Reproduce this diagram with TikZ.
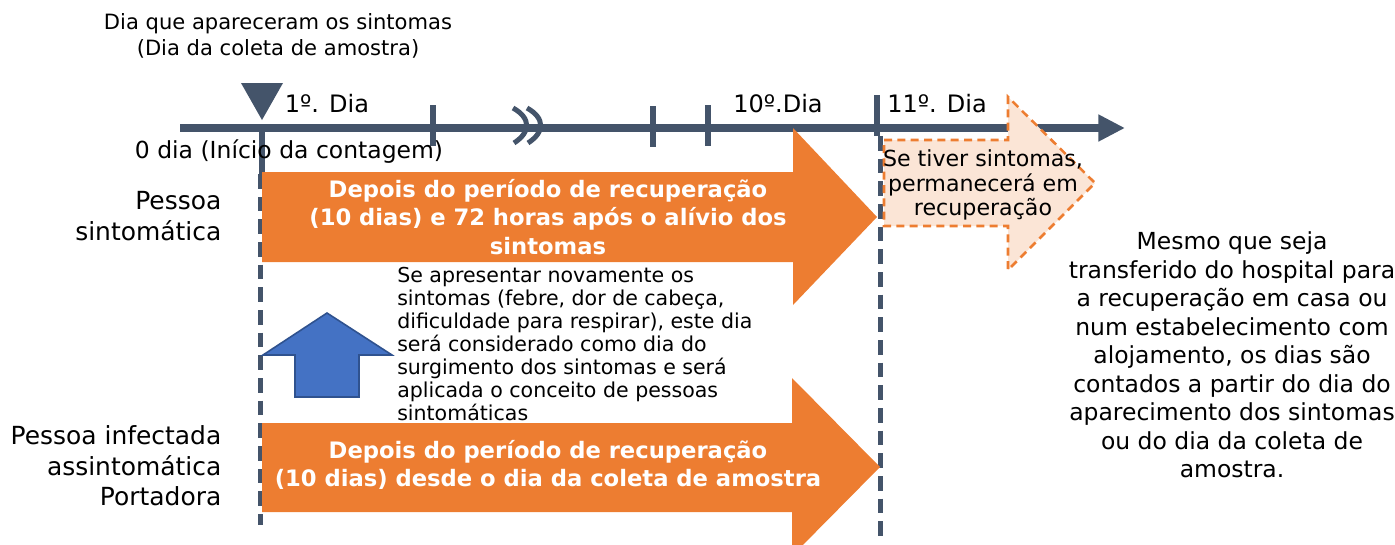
\documentclass[tikz,border=0pt]{standalone}
\usepackage{fontspec}
\setmainfont{DejaVu Sans}
\usepackage{xcolor}
\usepackage{tikz}
\usetikzlibrary{arrows.meta}

\definecolor{axisgray}{HTML}{44546A}
\definecolor{boxorange}{HTML}{ED7D31}
\definecolor{lightpeach}{HTML}{FBE5D6}
\definecolor{upblue}{HTML}{4472C4}
\definecolor{upblueline}{HTML}{2F528F}

\begin{document}
\begin{tikzpicture}[x=0.75pt, y=-0.75pt,
    daydash/.style={axisgray, line width=3.75pt, dash pattern=on 11pt off 6pt},
    tick/.style={axisgray, line width=4.5pt},
    whitebold/.style={white, font=\fontsize{17}{21.5}\selectfont\bfseries, align=center}]
    \useasboundingbox (0, 0) rectangle (1395, 544);

    \draw [line width=6pt, axisgray, -{Triangle[length=20pt, width=19pt]}] (180, 128) -- (1125, 128);
    \fill [axisgray] (241, 83) -- (283, 83) -- (262, 120) -- cycle;
    \draw [tick] (262, 128) -- (262, 174);
    \draw [tick] (433, 105) -- (433, 146);
    \draw [tick] (653, 106) -- (653, 147);
    \draw [tick] (708, 105) -- (708, 146);
    \draw [tick] (877, 95) -- (877, 136);
    \draw [axisgray, line width=3.75pt] (513, 108) .. controls (531, 118) and (531, 132) .. (514, 143);
    \draw [axisgray, line width=3.75pt] (527, 108) .. controls (545, 118) and (545, 132) .. (528, 143);

    \draw [daydash] (260, 174) -- (260, 525);
    \draw [daydash] (880, 136) -- (880, 544);

    \fill [boxorange] (262, 172) -- (793, 172) -- (793, 128) -- (877, 217) -- (793, 305) -- (793, 262) -- (262, 262) -- cycle;
    \fill [boxorange] (262, 423) -- (792, 423) -- (792, 378) -- (880, 467) -- (792, 556) -- (792, 512) -- (262, 512) -- cycle;
    \draw [boxorange, fill=lightpeach, line width=1.9pt, dash pattern=on 6pt off 4pt] (884, 140) -- (1008, 140) -- (1008, 97) -- (1095, 183) -- (1008, 270) -- (1008, 226) -- (884, 226) -- cycle;
    \draw [upblueline, fill=upblue, line width=1.2pt] (295, 397) -- (295, 355) -- (263, 355) -- (327, 313) -- (392, 355) -- (359, 355) -- (359, 397) -- cycle;

    \node [align=center, font=\fontsize{15.8}{19.5}\selectfont] (captionTop) at (278, 36) {Dia que apareceram os sintomas\\(Dia da coleta de amostra)};
    \node [font=\fontsize{18}{22}\selectfont] (dayOne) at (327, 104) {1º. Dia};
    \node [font=\fontsize{18}{22}\selectfont] (dayTen) at (778, 104) {10º.Dia};
    \node [font=\fontsize{18}{22}\selectfont] (dayEleven) at (937, 104) {11º. Dia};
    \node [font=\fontsize{17.6}{22}\selectfont] (dayZero) at (289, 152) {0 dia (Início da contagem)};

    \node [anchor=east, align=right, font=\fontsize{18.7}{23}\selectfont] (labelSympt) at (226, 216) {Pessoa\\sintomática};
    \node [anchor=east, align=right, font=\fontsize{18.7}{23}\selectfont] (labelAsympt) at (226, 466) {Pessoa infectada\\assintomática\\Portadora};

    \node [whitebold] (textSympt) at (548, 217) {Depois do período de recuperação\\(10 dias) e 72 horas após o alívio dos\\sintomas};
    \node [whitebold] (textAsympt) at (548, 465) {Depois do período de recuperação\\(10 dias) desde o dia da coleta de amostra};
    \node [anchor=north west, align=left, inner sep=0pt, font=\fontsize{15.4}{17.2}\selectfont] (textAgain) at (397, 267) {Se apresentar novamente os\\sintomas (febre, dor de cabeça,\\dificuldade para respirar), este dia\\será considerado como dia do\\surgimento dos sintomas e será\\aplicada o conceito de pessoas\\sintomáticas};
    \node [align=center, font=\fontsize{16.6}{18.5}\selectfont] (textStay) at (983, 185) {Se tiver sintomas,\\permanecerá em\\recuperação};
    \node [align=center, font=\fontsize{17.6}{21.4}\selectfont] (textNote) at (1232, 355) {Mesmo que seja\\transferido do hospital para\\a recuperação em casa ou\\num estabelecimento com\\alojamento, os dias são\\contados a partir do dia do\\aparecimento dos sintomas\\ou do dia da coleta de\\amostra.};
\end{tikzpicture}
\end{document}
